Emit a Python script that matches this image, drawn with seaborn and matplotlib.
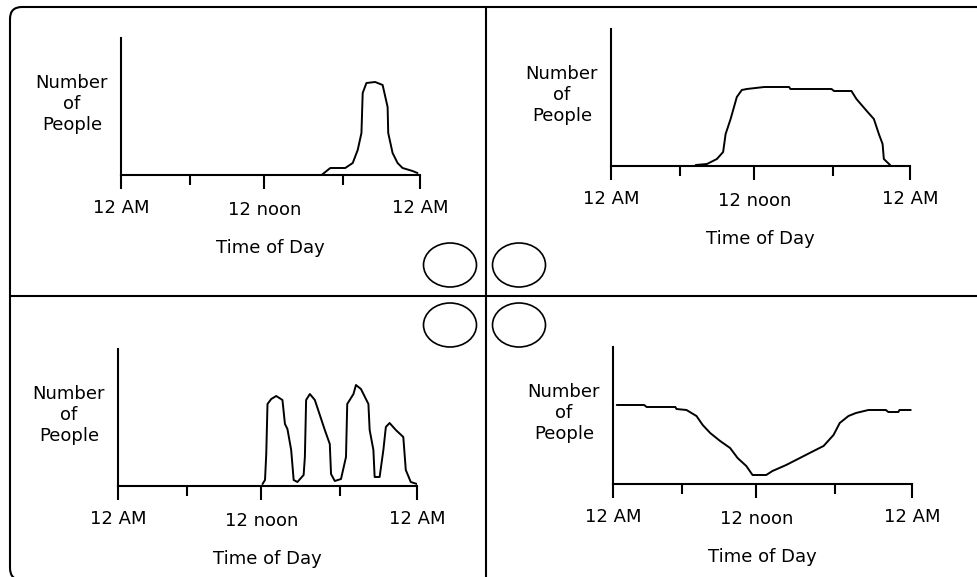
import numpy as np
import matplotlib
matplotlib.use("Agg")
import matplotlib.pyplot as plt
import matplotlib.patches as mpatches
import matplotlib.transforms as mtransforms
import seaborn as sns

# --- data (hours of the day, people in arbitrary units) ---
tick_major = [0, 11.5, 24]
tick_minor = [5.5, 17.8]
tick_labels = ["12 AM", "12 noon", "12 AM"]

# top left: one sharp evening peak
evening_hours = [16.1, 16.8, 18.0, 18.6, 19.0, 19.3, 19.4, 19.7, 20.4, 21.0,
                 21.4, 21.45, 21.8, 22.2, 22.6, 23.4, 23.8]
evening_people = [0, 7, 7, 12, 25, 42, 82, 92, 93, 90,
                  68, 42, 22, 12, 7, 4, 2]

# top right: flat daytime plateau
daytime_hours = [6.8, 7.7, 8.5, 9.0, 9.2, 9.6, 10.1, 10.5, 10.9, 12.3,
                 14.3, 14.4, 17.7, 17.9, 19.3, 19.7, 20.6, 21.1, 21.5, 21.8,
                 21.9, 22.4]
daytime_people = [1, 2, 7, 14, 32, 47, 69, 76, 77, 79,
                  79, 77, 77, 75, 75, 67, 54, 47, 32, 22,
                  7, 1]

# bottom left: four separate waves in the afternoon/evening
waves_hours = [11.6, 11.8, 11.9, 12.0, 12.3, 12.7, 13.2, 13.4, 13.6, 13.9,
               14.1, 14.4, 14.9, 15.0, 15.1, 15.4, 15.8, 16.2, 16.6, 17.0,
               17.1, 17.4, 17.9, 18.3, 18.4, 18.9, 19.1, 19.5, 20.1, 20.2,
               20.5, 20.6, 21.0, 21.3, 21.5, 21.8, 22.3, 22.9, 23.1, 23.5,
               24.0]
waves_people = [2, 6, 32, 82, 87, 90, 86, 62, 57, 36,
                6, 4, 11, 29, 86, 92, 86, 71, 56, 42,
                12, 5, 7, 29, 82, 92, 101, 97, 82, 56,
                36, 9, 9, 36, 59, 63, 56, 49, 16, 4,
                2]

# bottom right: dip around noon
dip_hours = [0.3, 2.5, 2.7, 5.0, 5.1, 5.9, 6.7, 7.2, 7.8, 8.6,
             9.4, 10.0, 10.7, 11.2, 12.3, 12.8, 13.9, 15.0, 16.1, 16.9,
             17.7, 18.2, 18.9, 19.5, 20.5, 21.9, 22.1, 22.9, 23.0, 23.9]
dip_people = [79, 79, 77, 77, 75, 74, 68, 59, 51, 43,
              36, 26, 18, 9, 9, 13, 19, 26, 33, 38,
              49, 61, 68, 71, 74, 74, 72, 72, 74, 74]

panels = [
    (evening_hours, evening_people, (121, 38)),
    (daytime_hours, daytime_people, (611, 29)),
    (waves_hours, waves_people, (118, 349)),
    (dip_hours, dip_people, (613, 347)),
]

sns.set_style("white")
plt.rcParams["font.family"] = ["DejaVu Sans"]
plt.rcParams["text.color"] = "black"
plt.rcParams["axes.labelcolor"] = "black"
plt.rcParams["xtick.color"] = "black"

W, H = 977, 577
fig = plt.figure(figsize=(W / 100, H / 100), dpi=100)
fig.patch.set_facecolor("white")

ax_w, ax_h = 299, 137
for hours, people, (left, top) in panels:
    ax = fig.add_axes([left / W, (H - top - ax_h) / H, ax_w / W, ax_h / H])
    sns.lineplot(x=hours, y=people, ax=ax, color="black", linewidth=1.4,
                 estimator=None, sort=False)
    ax.set_xlim(0, 24)
    ax.set_ylim(0, 137)
    for s in ["top", "right"]:
        ax.spines[s].set_visible(False)
    for s in ["left", "bottom"]:
        ax.spines[s].set_color("black")
        ax.spines[s].set_linewidth(1.5)
    ax.set_yticks([])
    ax.set_xticks(tick_major)
    ax.set_xticklabels(tick_labels, fontsize=13, color="black")
    ax.set_xticks(tick_minor, minor=True)
    ax.tick_params(axis="x", which="major", direction="out", length=10,
                   width=1.5, color="black", pad=7, bottom=True)
    ax.tick_params(axis="x", which="minor", direction="out", length=7,
                   width=1.5, color="black", bottom=True)
    # "12 noon" sits a little lower in the original
    noon = ax.get_xticklabels()[1]
    noon.set_transform(noon.get_transform() +
                       mtransforms.ScaledTranslation(0, -2 / 72, fig.dpi_scale_trans))
    ax.set_xlabel("Time of Day", fontsize=13, labelpad=14, color="black")
    ax.set_ylabel("Number\nof\nPeople", fontsize=13, rotation=0,
                  ha="right", va="center", multialignment="center",
                  linespacing=1.22, color="black")
    ax.yaxis.set_label_coords(-0.043, 0.52)
    ax.set_facecolor("none")

# outer frame with rounded left corners, dividers and the four answer circles
frame = mpatches.FancyBboxPatch((0.22, 0.09), 11.0, 5.49,
                                boxstyle="round,pad=0.12,rounding_size=0.12",
                                transform=fig.dpi_scale_trans, fill=False,
                                edgecolor="black", linewidth=1.5)
fig.patches.append(frame)
fig.add_artist(plt.Line2D([486 / W, 486 / W], [0, (H - 7) / H],
                          color="black", linewidth=1.5))
fig.add_artist(plt.Line2D([10 / W, 1], [(H - 296) / H, (H - 296) / H],
                          color="black", linewidth=1.5))
for cx, cy in [(450, 265), (519, 265), (450, 325), (519, 325)]:
    fig.patches.append(mpatches.Ellipse((cx / W, (H - cy) / H), 53 / W, 44 / H,
                                        transform=fig.transFigure, fill=False,
                                        edgecolor="black", linewidth=1.2))

fig.savefig("out.png", dpi=100, facecolor="white")
